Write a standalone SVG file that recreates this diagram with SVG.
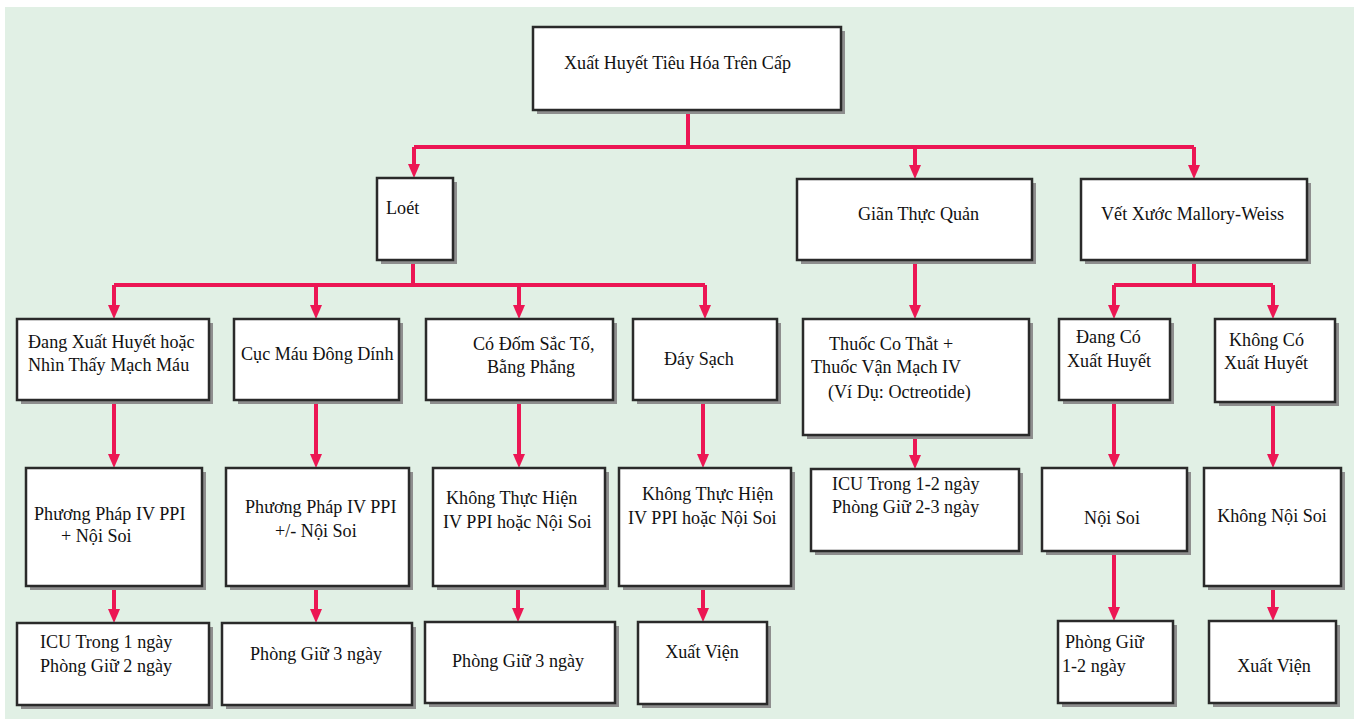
<svg xmlns="http://www.w3.org/2000/svg" width="1354" height="719" viewBox="0 0 1354 719">
  <defs>
    <style>
      .shadow { fill: #8e8e8e; }
      .box { fill: #ffffff; stroke: #2a2a2a; stroke-width: 2.5; }
      .lbl { font-family: "Liberation Serif", "Times New Roman", serif; font-size: 19.5px; fill: #111111; }
      .wire { fill: none; stroke: #ec1654; stroke-width: 4; stroke-linecap: butt; }
      .arrow { fill: none; stroke: #ec1654; stroke-width: 4; marker-end: url(#head); }
    </style>
    <marker id="head" markerUnits="userSpaceOnUse" markerWidth="14" markerHeight="12" refX="9" refY="6" orient="auto">
      <path d="M0,0 L14,6 L0,12 z" fill="#ec1654"/>
    </marker>
  </defs>

  <!-- page -->
  <rect x="0" y="0" width="1354" height="719" fill="#ffffff"/>
  <rect x="5" y="7" width="1349" height="712" fill="#e1f0e5"/>

  <!-- connectors -->
  <g id="connectors">
    <path class="wire" d="M688,110 V147 M414,147 H1194"/>
    <path class="arrow" d="M414,147 V173"/>
    <path class="arrow" d="M915,147 V174"/>
    <path class="arrow" d="M1194,147 V174"/>

    <path class="wire" d="M413,260 V285 M114,285 H705"/>
    <path class="arrow" d="M114,285 V314"/>
    <path class="arrow" d="M316,285 V314"/>
    <path class="arrow" d="M519,285 V314"/>
    <path class="arrow" d="M705,285 V314"/>

    <path class="arrow" d="M915,260 V314"/>

    <path class="wire" d="M1194,260 V285 M1114,285 H1273"/>
    <path class="arrow" d="M1114,285 V314"/>
    <path class="arrow" d="M1273,285 V314"/>

    <path class="arrow" d="M114,400 V463"/>
    <path class="arrow" d="M316,400 V463"/>
    <path class="arrow" d="M519,400 V463"/>
    <path class="arrow" d="M703,400 V463"/>
    <path class="arrow" d="M915,435 V464"/>
    <path class="arrow" d="M1114,400 V463"/>
    <path class="arrow" d="M1273,402 V463"/>

    <path class="arrow" d="M114,586 V618"/>
    <path class="arrow" d="M316,586 V618"/>
    <path class="arrow" d="M518,586 V617"/>
    <path class="arrow" d="M703,586 V617"/>
    <path class="arrow" d="M1114,551 V616"/>
    <path class="arrow" d="M1273,586 V616"/>
  </g>

  <!-- level 0 -->
  <g id="root">
    <rect class="shadow" x="537" y="31" width="308" height="83"/>
    <rect class="box" x="533" y="27" width="308" height="83"/>
    <text class="lbl" transform="translate(564,69) scale(0.93,1)">Xuất Huyết Tiêu Hóa Trên Cấp</text>
  </g>

  <!-- level 1 -->
  <g id="loet">
    <rect class="shadow" x="381" y="182" width="76" height="82"/>
    <rect class="box" x="377" y="178" width="76" height="82"/>
    <text class="lbl" transform="translate(386,214) scale(0.93,1)">Loét</text>
  </g>
  <g id="gian-thuc-quan">
    <rect class="shadow" x="801" y="183" width="235" height="81"/>
    <rect class="box" x="797" y="179" width="235" height="81"/>
    <text class="lbl" transform="translate(858,220) scale(0.93,1)">Giãn Thực Quản</text>
  </g>
  <g id="mallory-weiss">
    <rect class="shadow" x="1085" y="183" width="226" height="81"/>
    <rect class="box" x="1081" y="179" width="226" height="81"/>
    <text class="lbl" transform="translate(1101,220) scale(0.93,1)">Vết Xước Mallory-Weiss</text>
  </g>

  <!-- level 2 -->
  <g id="dang-xuat-huyet">
    <rect class="shadow" x="21" y="323" width="192" height="81"/>
    <rect class="box" x="17" y="319" width="192" height="81"/>
    <text class="lbl" transform="translate(28,348) scale(0.93,1)">Đang Xuất Huyết hoặc</text>
    <text class="lbl" transform="translate(28,371) scale(0.93,1)">Nhìn Thấy Mạch Máu</text>
  </g>
  <g id="cuc-mau-dong">
    <rect class="shadow" x="238" y="323" width="165" height="81"/>
    <rect class="box" x="234" y="319" width="165" height="81"/>
    <text class="lbl" transform="translate(241,360) scale(0.93,1)">Cục Máu Đông Dính</text>
  </g>
  <g id="dom-sac-to">
    <rect class="shadow" x="430" y="323" width="187" height="81"/>
    <rect class="box" x="426" y="319" width="187" height="81"/>
    <text class="lbl" transform="translate(473,350) scale(0.93,1)">Có Đốm Sắc Tố,</text>
    <text class="lbl" transform="translate(487,373) scale(0.93,1)">Bằng Phẳng</text>
  </g>
  <g id="day-sach">
    <rect class="shadow" x="637" y="323" width="144" height="81"/>
    <rect class="box" x="633" y="319" width="144" height="81"/>
    <text class="lbl" transform="translate(664,365) scale(0.93,1)">Đáy Sạch</text>
  </g>
  <g id="thuoc-co-that">
    <rect class="shadow" x="807" y="323" width="226" height="116"/>
    <rect class="box" x="803" y="319" width="226" height="116"/>
    <text class="lbl" transform="translate(829,350) scale(0.93,1)">Thuốc Co Thắt +</text>
    <text class="lbl" transform="translate(811,373) scale(0.93,1)">Thuốc Vận Mạch IV</text>
    <text class="lbl" transform="translate(828,398) scale(0.93,1)">(Ví Dụ: Octreotide)</text>
  </g>
  <g id="dang-co-xuat-huyet">
    <rect class="shadow" x="1063" y="323" width="111" height="81"/>
    <rect class="box" x="1059" y="319" width="111" height="81"/>
    <text class="lbl" transform="translate(1076,343) scale(0.93,1)">Đang Có</text>
    <text class="lbl" transform="translate(1067,367) scale(0.93,1)">Xuất Huyết</text>
  </g>
  <g id="khong-co-xuat-huyet">
    <rect class="shadow" x="1219" y="323" width="120" height="83"/>
    <rect class="box" x="1215" y="319" width="120" height="83"/>
    <text class="lbl" transform="translate(1229,346) scale(0.93,1)">Không Có</text>
    <text class="lbl" transform="translate(1224,369) scale(0.93,1)">Xuất Huyết</text>
  </g>

  <!-- level 3 -->
  <g id="ppi-noi-soi">
    <rect class="shadow" x="30" y="472" width="176" height="118"/>
    <rect class="box" x="26" y="468" width="176" height="118"/>
    <text class="lbl" transform="translate(34,520) scale(0.93,1)">Phương Pháp IV PPI</text>
    <text class="lbl" transform="translate(61,542) scale(0.93,1)">+ Nội Soi</text>
  </g>
  <g id="ppi-tuy-chon">
    <rect class="shadow" x="230" y="472" width="183" height="118"/>
    <rect class="box" x="226" y="468" width="183" height="118"/>
    <text class="lbl" transform="translate(245,513) scale(0.93,1)">Phương Pháp IV PPI</text>
    <text class="lbl" transform="translate(275,537) scale(0.93,1)">+/- Nội Soi</text>
  </g>
  <g id="khong-thuc-hien-1">
    <rect class="shadow" x="437" y="472" width="172" height="118"/>
    <rect class="box" x="433" y="468" width="172" height="118"/>
    <text class="lbl" transform="translate(446,504) scale(0.93,1)">Không Thực Hiện</text>
    <text class="lbl" transform="translate(443,528) scale(0.93,1)">IV PPI hoặc Nội Soi</text>
  </g>
  <g id="khong-thuc-hien-2">
    <rect class="shadow" x="623" y="472" width="172" height="118"/>
    <rect class="box" x="619" y="468" width="172" height="118"/>
    <text class="lbl" transform="translate(642,500) scale(0.93,1)">Không Thực Hiện</text>
    <text class="lbl" transform="translate(628,524) scale(0.93,1)">IV PPI hoặc Nội Soi</text>
  </g>
  <g id="icu-1-2">
    <rect class="shadow" x="815" y="473" width="208" height="82"/>
    <rect class="box" x="811" y="469" width="208" height="82"/>
    <text class="lbl" transform="translate(832,490) scale(0.93,1)">ICU Trong 1-2 ngày</text>
    <text class="lbl" transform="translate(832,513) scale(0.93,1)">Phòng Giữ 2-3 ngày</text>
  </g>
  <g id="noi-soi">
    <rect class="shadow" x="1046" y="472" width="145" height="83"/>
    <rect class="box" x="1042" y="468" width="145" height="83"/>
    <text class="lbl" text-anchor="middle" transform="translate(1112,524) scale(0.93,1)">Nội Soi</text>
  </g>
  <g id="khong-noi-soi">
    <rect class="shadow" x="1208" y="472" width="137" height="118"/>
    <rect class="box" x="1204" y="468" width="137" height="118"/>
    <text class="lbl" text-anchor="middle" transform="translate(1272,522) scale(0.93,1)">Không Nội Soi</text>
  </g>

  <!-- level 4 -->
  <g id="icu-1">
    <rect class="shadow" x="21" y="627" width="192" height="82"/>
    <rect class="box" x="17" y="623" width="192" height="82"/>
    <text class="lbl" transform="translate(40,648) scale(0.93,1)">ICU Trong 1 ngày</text>
    <text class="lbl" transform="translate(40,672) scale(0.93,1)">Phòng Giữ 2 ngày</text>
  </g>
  <g id="phong-giu-3a">
    <rect class="shadow" x="226" y="627" width="190" height="82"/>
    <rect class="box" x="222" y="623" width="190" height="82"/>
    <text class="lbl" transform="translate(250,660) scale(0.93,1)">Phòng Giữ 3 ngày</text>
  </g>
  <g id="phong-giu-3b">
    <rect class="shadow" x="429" y="626" width="190" height="81"/>
    <rect class="box" x="425" y="622" width="190" height="81"/>
    <text class="lbl" transform="translate(452,667) scale(0.93,1)">Phòng Giữ 3 ngày</text>
  </g>
  <g id="xuat-vien-1">
    <rect class="shadow" x="642" y="626" width="129" height="82"/>
    <rect class="box" x="638" y="622" width="129" height="82"/>
    <text class="lbl" text-anchor="middle" transform="translate(702,658) scale(0.93,1)">Xuất Viện</text>
  </g>
  <g id="phong-giu-1-2">
    <rect class="shadow" x="1062" y="625" width="115" height="82"/>
    <rect class="box" x="1058" y="621" width="115" height="82"/>
    <text class="lbl" transform="translate(1065,648) scale(0.93,1)">Phòng Giữ</text>
    <text class="lbl" transform="translate(1062,672) scale(0.93,1)">1-2 ngày</text>
  </g>
  <g id="xuat-vien-2">
    <rect class="shadow" x="1213" y="625" width="127" height="82"/>
    <rect class="box" x="1209" y="621" width="127" height="82"/>
    <text class="lbl" text-anchor="middle" transform="translate(1274,672) scale(0.93,1)">Xuất Viện</text>
  </g>
</svg>
